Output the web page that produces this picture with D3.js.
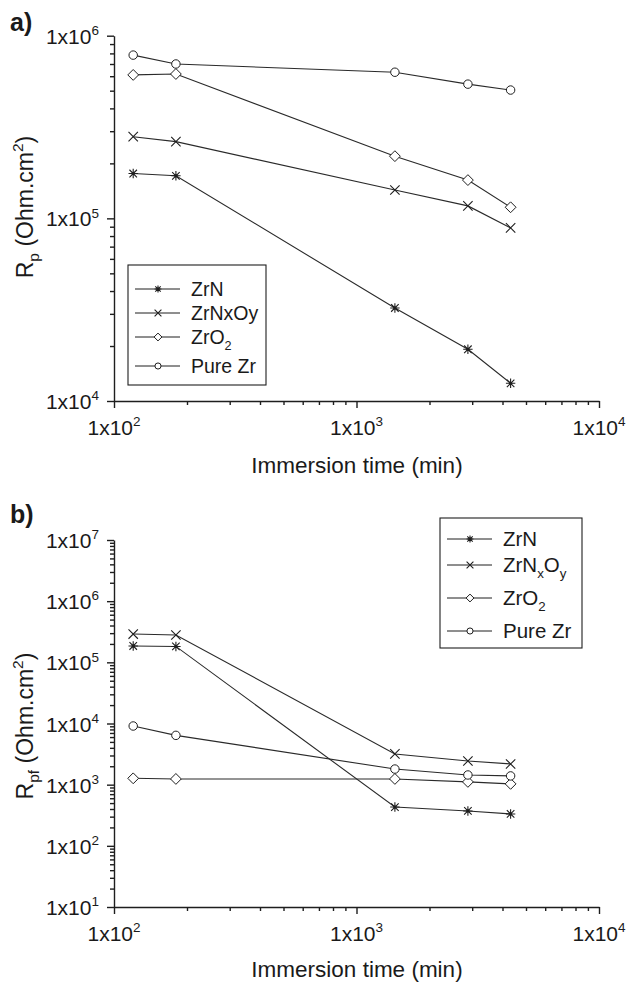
<!DOCTYPE html>
<html>
<head>
<meta charset="utf-8">
<script src="https://cdn.jsdelivr.net/npm/d3@7"></script>
<style>
body { margin: 0; background: #fff; }
text { font-family: "Liberation Sans", Arial, sans-serif; fill: #1a1a1a; }
</style>
</head>
<body>
<script>
// immersion times (min)
const times = [120, 180, 1440, 2880, 4320];
const seriesNames = ["ZrN", "ZrNxOy", "ZrO2", "Pure Zr"];
const markerTypes = ["star", "cross", "diamond", "circle"];

// panel a) Rp (Ohm.cm2)
const rpZrN = [1.76e5, 1.71e5, 3.23e4, 1.92e4, 1.25e4];
const rpZrNxOy = [2.8e5, 2.63e5, 1.43e5, 1.17e5, 8.87e4];
const rpZrO2 = [6.1e5, 6.17e5, 2.19e5, 1.62e5, 1.15e5];
const rpPureZr = [7.83e5, 7.0e5, 6.31e5, 5.43e5, 5.04e5];

// panel b) Rpf (Ohm.cm2)
const rpfZrN = [1.85e5, 1.82e5, 431, 372, 332];
const rpfZrNxOy = [2.9e5, 2.8e5, 3.18e3, 2.44e3, 2.18e3];
const rpfZrO2 = [1.27e3, 1.24e3, 1.24e3, 1.11e3, 1.03e3];
const rpfPureZr = [9.1e3, 6.4e3, 1.8e3, 1.44e3, 1.39e3];

const xTicks = [100, 1000, 10000];
const yTicksA = [1e4, 1e5, 1e6];
const yTicksB = [1e1, 1e2, 1e3, 1e4, 1e5, 1e6, 1e7];

// legend labels: [text, sub] pieces
const legendA = [[["ZrN"]], [["ZrNxOy"]], [["ZrO"], ["2", "sub"]], [["Pure Zr"]]];
const legendB = [[["ZrN"]], [["ZrN"], ["x", "sub"], ["O"], ["y", "sub"]], [["ZrO"], ["2", "sub"]], [["Pure Zr"]]];

const width = 626, height = 985;
const ink = "#1e1e1e";

const svg = d3.select("body").append("svg")
	.attr("width", width)
	.attr("height", height)
	.attr("viewBox", [0, 0, width, height]);

function minorTicks(domain) {
	const out = [];
	const lo = Math.round(Math.log10(domain[0])), hi = Math.round(Math.log10(domain[1]));
	for (let e = lo; e < hi; e++)
		for (let k = 2; k <= 9; k++) out.push(k * Math.pow(10, e));
	return out;
}

// write rich text pieces (normal / sub / sup) into a text node
function richText(t, pieces, subSize, shift) {
	let off = 0;
	pieces.forEach(([s, kind]) => {
		const target = kind === "sub" ? shift : kind === "sup" ? -shift * 1.6 : 0;
		const ts = t.append("tspan").attr("dy", target - off).text(s);
		if (kind) ts.attr("font-size", subSize);
		off = target;
	});
}

function drawMarker(g, type, s) {
	if (type === "circle") {
		g.append("circle").attr("r", s * 0.9).attr("fill", "#fff").attr("stroke", ink).attr("stroke-width", 1);
	} else if (type === "diamond") {
		const r = s * 1.15;
		g.append("path").attr("d", `M0,${-r}L${r},0L0,${r}L${-r},0Z`)
			.attr("fill", "#fff").attr("stroke", ink).attr("stroke-width", 1);
	} else if (type === "cross") {
		g.append("path").attr("d", `M${-s},${-s}L${s},${s}M${-s},${s}L${s},${-s}`)
			.attr("stroke", ink).attr("stroke-width", 1.1);
	} else {
		const d = s * 0.8;
		g.append("path").attr("d", `M0,${-s}L0,${s}M${-d},${-d}L${d},${d}M${-d},${d}L${d},${-d}M${-s},0L${s},0`)
			.attr("stroke", ink).attr("stroke-width", 1.1);
		g.append("circle").attr("r", 1.6).attr("fill", ink);
	}
}

function panel({ top, bottom, yDomain, yTicks, data, legend, tag, tagY, yLabel, titleY, labelY }) {
	const x = d3.scaleLog().domain([100, 10000]).range([114, 599]);
	const y = d3.scaleLog().domain(yDomain).range([bottom, top]);
	const g = svg.append("g");

	// x axis
	const xa = g.append("g").attr("transform", `translate(0,${bottom})`);
	xa.call(d3.axisBottom(x).tickValues(minorTicks(x.domain())).tickSize(4).tickFormat(""))
		.call((a) => a.select(".domain").remove());
	xa.append("g").call(d3.axisBottom(x).tickValues(xTicks).tickSize(7).tickSizeOuter(0).tickFormat(""));
	xa.selectAll("line, path").attr("stroke", ink).attr("stroke-width", 1.4);

	// y axis
	const ya = g.append("g").attr("transform", `translate(114,0)`);
	ya.call(d3.axisLeft(y).tickValues(minorTicks(y.domain())).tickSize(4).tickFormat(""))
		.call((a) => a.select(".domain").remove());
	ya.append("g").call(d3.axisLeft(y).tickValues(yTicks).tickSize(7).tickSizeOuter(0).tickFormat(""));
	ya.selectAll("line, path").attr("stroke", ink).attr("stroke-width", 1.4);

	// tick labels
	g.selectAll(".xl").data(xTicks).join("text")
		.attr("x", (d) => x(d)).attr("y", bottom + 34)
		.attr("text-anchor", "middle").attr("font-size", 21)
		.each(function (d) {
			richText(d3.select(this), [["1x10"], [String(Math.round(Math.log10(d))), "sup"]], 13.5, 5.5);
		});
	g.selectAll(".yl").data(yTicks).join("text")
		.attr("x", 99).attr("y", (d) => y(d) + 8)
		.attr("text-anchor", "end").attr("font-size", 21)
		.each(function (d) {
			richText(d3.select(this), [["1x10"], [String(Math.round(Math.log10(d))), "sup"]], 13.5, 5.5);
		});

	// lines + markers
	const line = d3.line().x((d) => x(d[0])).y((d) => y(d[1]));
	data.forEach((vals) => {
		const pts = times.map((t, j) => [t, vals[j]]);
		g.append("path").attr("d", line(pts)).attr("fill", "none")
			.attr("stroke", "#2a2a2a").attr("stroke-width", 1.1);
	});
	data.forEach((vals, i) => {
		times.forEach((t, j) => {
			const m = g.append("g").attr("transform", `translate(${x(t)},${y(vals[j])})`);
			drawMarker(m, markerTypes[i], 4.7);
		});
	});

	// legend
	const L = legend;
	const lg = g.append("g");
	lg.append("rect").attr("x", L.x).attr("y", L.y).attr("width", L.w).attr("height", L.h)
		.attr("fill", "#fff").attr("stroke", ink).attr("stroke-width", 1.1);
	L.rows.forEach((ry, i) => {
		lg.append("line").attr("x1", L.x + 7).attr("x2", L.x + 52).attr("y1", ry).attr("y2", ry)
			.attr("stroke", ink).attr("stroke-width", 1);
		const m = lg.append("g").attr("transform", `translate(${L.x + 30},${ry})`);
		drawMarker(m, markerTypes[i], 3.4);
		const t = lg.append("text").attr("x", L.x + 63).attr("y", ry + 7).attr("font-size", L.fs);
		richText(t, L.labels[i], L.fs * 0.65, 6);
	});

	// axis titles
	svg.append("text").attr("x", 357).attr("y", titleY)
		.attr("text-anchor", "middle").attr("font-size", 22.5)
		.text("Immersion time (min)");
	const yl = svg.append("text")
		.attr("transform", `translate(33,${labelY}) rotate(-90)`)
		.attr("text-anchor", "middle").attr("font-size", 23);
	richText(yl, yLabel, 15.5, 6);

	// panel tag
	svg.append("text").attr("x", 10).attr("y", tagY)
		.attr("font-family", "Liberation Serif, Times New Roman, serif")
		.attr("font-weight", "bold").attr("font-size", 25).text(tag);
}

panel({
	top: 35.7, bottom: 401,
	yDomain: [1e4, 1e6], yTicks: yTicksA,
	data: [rpZrN, rpZrNxOy, rpZrO2, rpPureZr],
	legend: { x: 128, y: 265, w: 138, h: 120, rows: [289, 313, 337, 366], labels: legendA, fs: 19.5 },
	tag: "a)", tagY: 31,
	yLabel: [["R"], ["p", "sub"], [" (Ohm.cm"], ["2", "sup"], [")"]],
	titleY: 473, labelY: 207
});

panel({
	top: 540, bottom: 907,
	yDomain: [1e1, 1e7], yTicks: yTicksB,
	data: [rpfZrN, rpfZrNxOy, rpfZrO2, rpfPureZr],
	legend: { x: 440, y: 518, w: 142, h: 130, rows: [539, 565, 598, 631], labels: legendB, fs: 20.5 },
	tag: "b)", tagY: 523,
	yLabel: [["R"], ["pf", "sub"], [" (Ohm.cm"], ["2", "sup"], [")"]],
	titleY: 977, labelY: 726
});
</script>
</body>
</html>
